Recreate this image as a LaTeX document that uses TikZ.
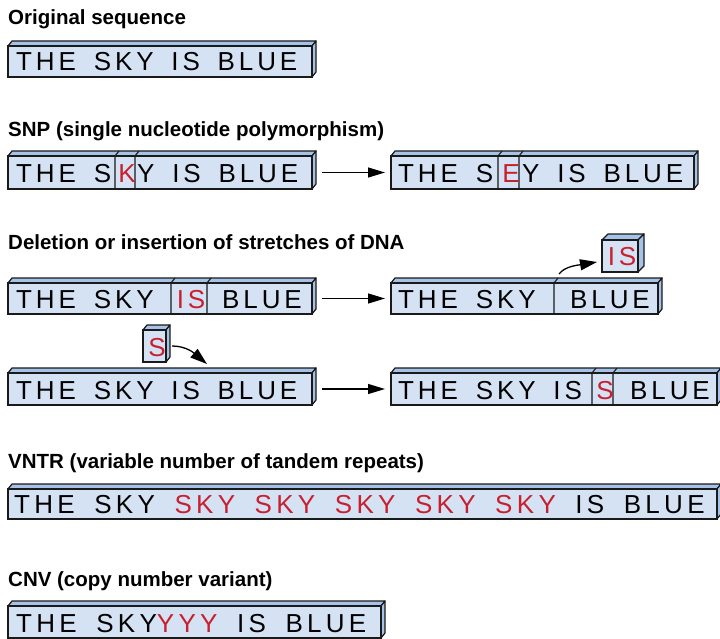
\documentclass[tikz,border=0pt]{standalone}
\usepackage{fontspec}
\setmainfont{Liberation Sans}
\newfontfamily\seqfont[LetterSpace=15,WordSpace=1.6]{Liberation Sans}
\newfontfamily\seqwidefont[LetterSpace=16.5,WordSpace=1.7]{Liberation Sans}
\usetikzlibrary{arrows.meta,calc}
\definecolor{frontblue}{HTML}{D4E2F4}
\definecolor{sideblue}{HTML}{A6C2E6}
\definecolor{seqred}{HTML}{C8202F}
\definecolor{edgecol}{HTML}{1A1A1A}
\tikzset{
  front/.style={draw=edgecol, fill=frontblue, line width=1.2pt, inner sep=0pt, outer sep=0pt, anchor=north west},
  face/.style={draw=edgecol, fill=sideblue, line width=1.2pt, line join=round},
  divline/.style={draw=edgecol, line width=1.1pt},
  seqtext/.style={font=\seqfont\fontsize{26}{26}\selectfont, inner sep=0pt, anchor=base west},
  seqwide/.style={font=\seqwidefont\fontsize{26}{26}\selectfont, inner sep=0pt, anchor=base west},
  redtext/.style={text=seqred},
  title/.style={font=\bfseries\fontsize{20.5}{24}\selectfont, inner sep=0pt, anchor=base west},
  flow/.style={draw=black, line width=1.2pt, -{Triangle[length=17pt,width=10pt]}},
  curvearrow/.style={draw=black, line width=1.3pt, -{Triangle[length=17pt,width=11pt]}},
}
% name, x1, y1, x2, y2, dx, dy
\newcommand{\seqbox}[7]{%
  \filldraw[face] (#2,#3) -- ++(#6,-#7) -- ({#4+#6},{#3-#7}) -- (#4,#3) -- cycle;
  \filldraw[face] (#4,#3) -- ({#4+#6},{#3-#7}) -- ({#4+#6},{#5-#7}) -- (#4,#5) -- cycle;
  \node[front, minimum width={(#4-#2)*1pt}, minimum height={(#5-#3)*1pt}] (#1) at (#2,#3) {};
}
% x, ytop, ybottom, dx, dy
\newcommand{\seqdiv}[5]{%
  \draw[divline] (#1,#3) -- (#1,#2) -- ++(#4,-#5);
}
\begin{document}
\begin{tikzpicture}[x=1pt,y=-1pt]
\useasboundingbox (0,0) rectangle (720,639);

% titles
\node[title] (h1) at (8,25) {Original sequence};
\node[title] (h2) at (8,137) {SNP (single nucleotide polymorphism)};
\node[title] (h3) at (8,249) {Deletion or insertion of stretches of DNA};
\node[title] (h4) at (8,468) {VNTR (variable number of tandem repeats)};
\node[title] (h5) at (8,586) {CNV (copy number variant)};

% original
\seqbox{b1}{8}{46}{312}{77}{4}{5}
\node[seqtext] (t1) at (16,71) {THE SKY IS BLUE};

% SNP
\seqbox{b2}{8}{156}{312}{189}{4}{5}
\seqdiv{115}{156}{189}{4}{5}
\seqdiv{135}{156}{189}{4}{5}
\node[seqtext] (t2a) at (16,183) {THE S};
\node[seqtext, redtext, anchor=base] (t2b) at (127,183) {K};
\node[seqtext] (t2c) at (137,183) {Y IS BLUE};

\seqbox{b3}{391}{156}{694}{189}{4}{5}
\seqdiv{498}{156}{189}{4}{5}
\seqdiv{519}{156}{189}{4}{5}
\node[seqtext] (t3a) at (398,183) {THE S};
\node[seqtext, redtext, anchor=base] (t3b) at (511,183) {E};
\node[seqtext] (t3c) at (522,183) {Y IS BLUE};

\draw[flow] ([xshift=10pt]b2.east) -- ([xshift=-6pt]b3.west);

% deletion
\seqbox{b4}{8}{283}{312}{314}{4}{5}
\seqdiv{171}{283}{314}{4}{5}
\seqdiv{207}{283}{314}{4}{5}
\node[seqtext] (t4a) at (16,308) {THE SKY};
\node[seqtext, redtext, anchor=base] (t4b) at (191,308) {IS};
\node[seqtext] (t4c) at (222,308) {BLUE};

\seqbox{b5}{391}{283}{658}{314}{4}{5}
\seqdiv{554}{283}{314}{4}{5}
\node[seqtext] (t5a) at (398,308) {THE SKY};
\node[seqtext] (t5c) at (570,308) {BLUE};

\seqbox{iscube}{602}{240}{638}{272}{6}{6}
\node[seqtext, redtext, anchor=base] (t5b) at (622,265) {IS};

\draw[flow] ([xshift=10pt]b4.east) -- ([xshift=-6pt]b5.west);
\coordinate (isstart) at (559,274);
\draw[curvearrow] (isstart) .. controls +(6,-8) and +(-18,3) .. ([xshift=-5pt,yshift=-6pt]iscube.west);

% insertion
\seqbox{scube}{143}{330}{166}{362}{4}{5}
\node[seqtext, redtext, anchor=base] (t6s) at (157,356) {S};

\seqbox{b6}{8}{373}{312}{405}{4}{5}
\node[seqtext] (t6) at (16,399) {THE SKY IS BLUE};

\coordinate (sinsert) at (207,364);
\draw[curvearrow] ([xshift=6pt]scube.east) .. controls +(15,0) and +(-12,-10) .. (sinsert);

\seqbox{b7}{391}{373}{717}{405}{4}{5}
\seqdiv{592}{373}{405}{4}{5}
\seqdiv{613}{373}{405}{4}{5}
\node[seqtext] (t7a) at (398,399) {THE SKY IS};
\node[seqtext, redtext, anchor=base] (t7b) at (605,399) {S};
\node[seqtext] (t7c) at (630,399) {BLUE};

\draw[flow] ([xshift=10pt]b6.east) -- ([xshift=-6pt]b7.west);

% VNTR
\seqbox{b8}{8}{489}{717}{519}{4}{5}
\node[seqwide] (t8) at (14,513) {THE SKY \textcolor{seqred}{SKY SKY SKY SKY SKY} IS BLUE};

% CNV
\seqbox{b9}{8}{606}{381}{638}{4}{5}
\node[seqwide] (t9) at (16,632) {THE SKY\textcolor{seqred}{YYY} IS BLUE};

\end{tikzpicture}
\end{document}
